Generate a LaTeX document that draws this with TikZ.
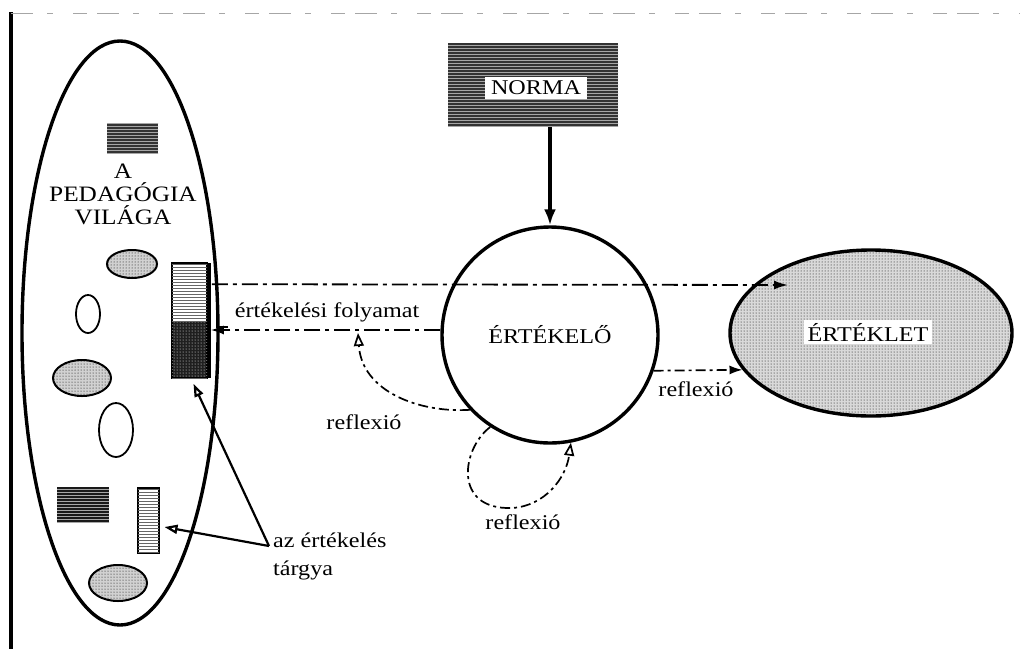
\documentclass[tikz,border=0pt]{standalone}
\usepackage{fontspec}
\setmainfont{Liberation Serif}[FakeStretch=1.15]
\usetikzlibrary{arrows.meta,patterns,shapes.geometric}
\begin{document}
\begin{tikzpicture}[x=1pt,y=-1pt,
  lbl/.style={font=\fontsize{21}{24}\selectfont, inner sep=1pt},
  dotell/.style={ellipse, draw, line width=2pt, fill=black!18, inner sep=0,
     postaction={pattern=dots, pattern color=black}},
  whell/.style={ellipse, draw, line width=1.8pt, fill=white, inner sep=0},
  darkbox/.style={rectangle, fill=black!80, inner sep=0,
     postaction={pattern=horizontal lines, pattern color=black!35}},
  lightbox/.style={rectangle, draw, line width=1.6pt, fill=white, inner sep=0,
     postaction={pattern=horizontal lines, pattern color=black!60}},
  dashline/.style={line width=1.8pt, dash pattern=on 16pt off 5pt on 4pt off 5pt},
  refl/.style={line width=1.7pt, dash pattern=on 10pt off 4pt on 3pt off 4pt,
     -{Triangle[open,length=13pt,width=10pt]}},
  objarrow/.style={line width=2.2pt, -{Triangle[open,length=13pt,width=9pt]}},
]
\useasboundingbox (0,0) rectangle (1028,649);

% frame remnants
\draw[line width=3.5pt] (11,12) -- (11,649);
\draw[black!35, line width=1pt, dash pattern=on 22pt off 14pt on 6pt off 20pt on 14pt off 10pt] (11,13) -- (1020,13);

% the world of pedagogy
\node[ellipse, draw, line width=3.4pt, minimum width=196pt, minimum height=584pt, inner sep=0] (world) at (120,333) {};
\node[darkbox, minimum width=51pt, minimum height=30pt] (icon1) at (132.5,138) {};
\node[font=\fontsize{22}{23}\selectfont, align=center, inner sep=0] (wl) at (123,194) {A\\PEDAGÓGIA\\VILÁGA};
\node[dotell, minimum width=50pt, minimum height=28pt] (e1) at (132,264) {};
\node[whell, minimum width=24pt, minimum height=38pt] (e2) at (88,314) {};
\node[dotell, minimum width=58pt, minimum height=36pt] (e3) at (82,378) {};
\node[whell, minimum width=34pt, minimum height=54pt] (e4) at (116,430) {};
\node[darkbox, fill=black!90, minimum width=52pt, minimum height=35pt] (icon2) at (83,504.5) {};
\node[lightbox, minimum width=21pt, minimum height=65pt] (obj2) at (148.5,520.5) {};
\node[dotell, minimum width=58pt, minimum height=36pt] (e5) at (118,583) {};

% the evaluated bar
\node[lightbox, minimum width=35pt, minimum height=115pt] (bar) at (189.5,320.5) {};
\fill[black!88, postaction={pattern=dots, pattern color=white}] (173,322) rectangle (206,377);
\draw[line width=3pt] (209,263) -- (209,378);
\draw[line width=2pt] (217,287) -- (217,327) -- (228,327);

% norm
\node[darkbox, minimum width=170pt, minimum height=84pt] (norma) at (533,85) {};
\node[lbl, fill=white, inner xsep=6pt, inner ysep=4pt] (normat) at (536,88) {NORMA};

% evaluator
\node[circle, draw, line width=3.4pt, minimum size=216pt, inner sep=0, font=\fontsize{21}{24}\selectfont] (ert) at (550,335) {ÉRTÉKELŐ};

% result
\node[dotell, line width=3.4pt, fill=black!15, minimum width=282pt, minimum height=166pt] (eklet) at (871,333) {};
\node[lbl, fill=white, inner xsep=4pt, inner ysep=3pt] (eklett) at (868,332) {ÉRTÉKLET};

% connectors
\draw[line width=3.6pt, -{Latex[length=16pt,width=12pt]}] (norma.south -| ert.north) -- (ert.north);

\coordinate (tip1) at (788,285);
\draw[dashline, -{Latex[length=14pt,width=9pt]}] ([xshift=4pt,yshift=-22pt]bar.north east) -- (tip1);
\draw[dashline, -{Latex[length=13pt,width=9pt]}] ([yshift=5pt]ert.west) -- ([xshift=3pt,yshift=-9.5pt]bar.east);

\node[lbl] (folyamat) at (327,312) {értékelési folyamat};

\coordinate (r1) at (358,333);
\draw[refl] (ert.223) .. controls (420,413) and (362,392) .. (r1);
\node[lbl] (refl1) at (364,422) {reflexió};

\draw[refl] (ert.237) .. controls (462,448) and (452,510) .. (512,508) .. controls (545,506) and (566,478) .. (ert.281);
\node[lbl] (refl2) at (523,522) {reflexió};

\draw[line width=1.7pt, dash pattern=on 10pt off 4pt on 3pt off 4pt, -{Latex[length=13pt,width=9pt]}] (ert.-19) -- (eklet.196);
\node[lbl] (refl3) at (696,389) {reflexió};

% object of evaluation
\node[font=\fontsize{21}{28}\selectfont, inner sep=0, align=left, anchor=north west] (targy) at (273,533) {az értékelés\\tárgya};
\coordinate (tg) at (269,546);
\draw[objarrow] (tg) -- ([xshift=4pt,yshift=-5pt]bar.south);
\draw[objarrow] (tg) -- ([xshift=16pt,yshift=-6.5pt]obj2.center);
\end{tikzpicture}
\end{document}
